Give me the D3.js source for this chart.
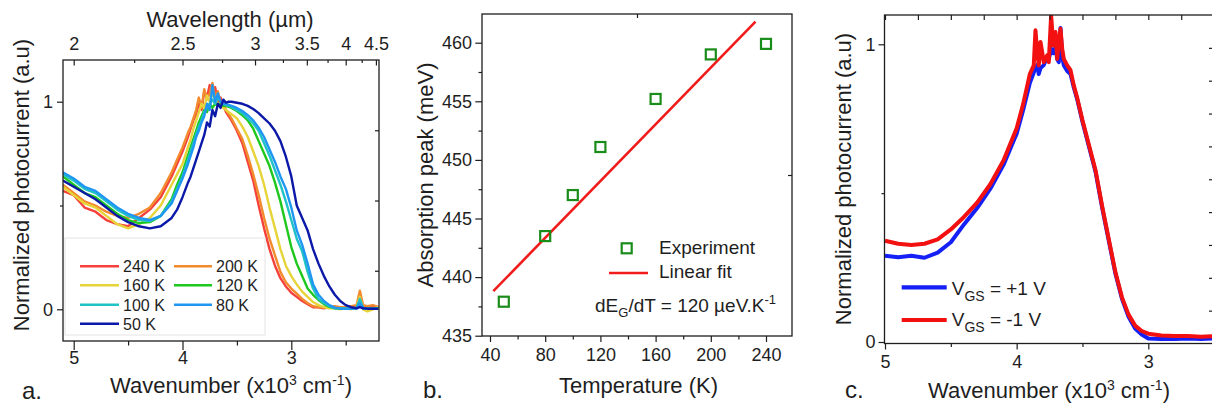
<!DOCTYPE html>
<html><head><meta charset="utf-8">
<script src="https://cdn.jsdelivr.net/npm/d3@7"></script>
<style>
body{margin:0;background:#fff;}
svg{display:block;font-family:"Liberation Sans",Arial,sans-serif;}
</style></head><body>
<svg id="chart" width="1212" height="407"></svg>
<script>
// ---------- Panel a data: wavenumber (x10^3 cm^-1) grid and normalized photocurrent ----------
const aWave = [5.1,5.0,4.9,4.8,4.7,4.6,4.5,4.4,4.3,4.2,4.1,4.05,4.0,3.95,3.925,3.9,3.875,3.85,3.825,3.8,3.775,3.75,3.725,3.7,3.675,3.65,3.625,3.6,3.575,3.55,3.5,3.45,3.4,3.35,3.3,3.25,3.2,3.15,3.1,3.05,3.0,2.95,2.9,2.85,2.8,2.75,2.7,2.65,2.6,2.55,2.5,2.45,2.4,2.37,2.34,2.3,2.25,2.2];
const a240 = [0.57,0.55,0.49,0.47,0.43,0.41,0.40,0.44,0.48,0.54,0.64,0.70,0.76,0.83,0.87,0.91,0.94,0.99,0.96,1.05,1.02,1.08,1.03,1.07,1.00,1.02,0.98,0.95,0.93,0.91,0.86,0.80,0.71,0.62,0.50,0.39,0.29,0.21,0.15,0.11,0.08,0.06,0.04,0.025,0.01,0.01,0.005,0.01,0.01,0.005,0.01,0.01,0.015,0.04,0.01,0.01,0.015,0.01];
const a200 = [0.60,0.56,0.52,0.50,0.47,0.45,0.44,0.46,0.49,0.56,0.66,0.72,0.78,0.85,0.88,0.92,0.96,1.02,0.97,1.06,1.01,1.04,1.09,1.02,1.05,0.99,1.00,0.96,0.94,0.92,0.87,0.82,0.74,0.65,0.55,0.44,0.34,0.26,0.18,0.13,0.10,0.075,0.05,0.03,0.015,0.01,0.01,0.01,0.015,0.01,0.01,0.015,0.02,0.09,0.02,0.015,0.02,0.01];
const a160 = [0.59,0.55,0.51,0.49,0.45,0.41,0.39,0.41,0.44,0.50,0.60,0.65,0.70,0.78,0.82,0.87,0.91,0.95,0.99,0.97,1.03,1.00,1.04,1.01,0.99,0.98,0.97,0.96,0.95,0.94,0.92,0.88,0.83,0.76,0.69,0.60,0.49,0.39,0.29,0.21,0.16,0.12,0.085,0.06,0.035,0.02,0.01,0.005,0.005,0.0,0.005,0.0,0.01,0.06,0.0,-0.01,0.0,0.01];
const a120 = [0.64,0.60,0.56,0.54,0.50,0.46,0.43,0.415,0.42,0.45,0.53,0.60,0.66,0.74,0.78,0.82,0.86,0.90,0.93,0.96,0.95,0.99,0.97,0.99,0.98,0.99,0.98,0.98,0.975,0.97,0.955,0.935,0.91,0.87,0.81,0.75,0.69,0.61,0.52,0.41,0.30,0.22,0.16,0.10,0.07,0.045,0.025,0.012,0.005,0.003,0.003,0.003,0.005,0.03,0.005,0.005,0.005,0.005];
const a100 = [0.65,0.62,0.58,0.56,0.52,0.48,0.45,0.43,0.425,0.45,0.52,0.58,0.64,0.72,0.76,0.80,0.84,0.88,0.91,0.95,0.97,0.99,1.01,0.99,1.02,1.00,0.99,0.985,0.98,0.975,0.96,0.945,0.92,0.895,0.86,0.80,0.74,0.67,0.60,0.52,0.43,0.34,0.28,0.18,0.10,0.05,0.03,0.015,0.005,0.005,0.003,0.003,0.005,0.05,0.005,0.003,0.003,0.003];
const a80  = [0.66,0.63,0.59,0.57,0.53,0.49,0.46,0.44,0.43,0.45,0.51,0.57,0.63,0.70,0.74,0.78,0.83,0.86,0.90,0.93,0.99,0.96,1.08,1.00,1.04,1.00,0.99,0.99,0.985,0.98,0.97,0.955,0.935,0.91,0.875,0.83,0.77,0.71,0.64,0.58,0.49,0.38,0.31,0.22,0.12,0.07,0.04,0.02,0.008,0.003,0.003,0.003,0.005,0.03,0.005,0.003,0.003,0.003];
const a50  = [0.62,0.59,0.56,0.53,0.49,0.45,0.42,0.40,0.39,0.40,0.44,0.48,0.54,0.61,0.64,0.68,0.72,0.76,0.80,0.84,0.90,0.88,0.96,0.93,0.99,0.97,1.01,0.995,1.0,1.0,0.995,0.99,0.98,0.965,0.945,0.92,0.895,0.86,0.81,0.735,0.64,0.50,0.44,0.38,0.29,0.22,0.16,0.11,0.07,0.04,0.02,0.01,0.005,0.01,0.005,0.003,0.003,0.003];
const aLabels = ["240 K","200 K","160 K","120 K","100 K","80 K","50 K"];
const aTicksBottom = [5,4,3];
const aTicksBottomMinor = [4.5,3.5,2.5];
const aTicksLeft = [0,1];
const aTicksLeftMinor = [0.5];
const aWavelengthTicks = [2,2.5,3,3.5,4,4.5];
const aWavelengthMinor = [2.25,2.75,3.25,3.75,4.25];

// ---------- Panel b data ----------
const bTemp = [50,80,100,120,160,200,240];
const bPeak = [437.9,443.5,447.0,451.1,455.2,459.0,459.9];
const bFitT = [42.4,232.4];
const bFitE = [438.8,461.8];
const bTicksX = [40,80,120,160,200,240];
const bTicksXMinor = [60,100,140,180,220];
const bTicksY = [435,440,445,450,455,460];
const bTicksYMinor = [437.5,442.5,447.5,452.5,457.5];

// ---------- Panel c data ----------
const cWave = [5.0,4.9,4.8,4.7,4.6,4.5,4.4,4.3,4.2,4.1,4.0,3.95,3.9,3.87,3.857,3.844,3.832,3.819,3.794,3.768,3.756,3.738,3.722,3.705,3.692,3.68,3.667,3.654,3.642,3.616,3.591,3.566,3.54,3.5,3.45,3.4,3.35,3.3,3.25,3.2,3.15,3.1,3.05,3.0,2.9,2.8,2.7,2.6,2.5];
const cPlus = [0.290,0.285,0.290,0.283,0.300,0.335,0.395,0.450,0.515,0.595,0.700,0.780,0.870,0.905,0.920,0.930,0.900,0.920,0.930,0.960,0.950,0.985,0.970,0.990,0.950,0.940,1.055,0.960,0.930,0.910,0.900,0.855,0.815,0.740,0.655,0.570,0.450,0.340,0.230,0.145,0.085,0.045,0.025,0.012,0.010,0.010,0.012,0.010,0.012];
const cMinus = [0.340,0.330,0.326,0.330,0.345,0.378,0.420,0.468,0.530,0.610,0.718,0.800,0.900,0.929,1.047,0.974,0.929,1.008,0.940,0.963,0.940,1.097,0.996,1.041,0.951,1.008,1.052,0.985,0.951,0.929,0.913,0.862,0.820,0.745,0.660,0.575,0.455,0.345,0.235,0.150,0.092,0.055,0.037,0.028,0.022,0.020,0.020,0.018,0.020];
const cLabels = ["+1 V","-1 V"];
const cTicksBottom = [5,4,3];
const cTicksBottomMinor = [4.5,3.5,2.5];
const cTicksTop = [5,4.75,4.5,4.25,4,3.75,3.5,3.25,3,2.75];
const cTicksLeft = [0,1];
const cTicksLeftMinor = [0.5];

// ---------- styles ----------
const INK = "#1e1e1e";
const TICK_FS = 18, TITLE_FS = 22;
const aColors = ["#f5413b","#f28a2e","#e6d438","#1ec81e","#20c2c6","#1f97f2","#0b18a8"];
const cColors = ["#1420f5","#f21010"];

const svg = d3.select("#chart");

function axis(g, gen, fs){
  g.call(gen);
  g.select(".domain").remove();
  g.attr("font-family", null).attr("font-size", null);
  g.selectAll(".tick line").attr("stroke", INK).attr("stroke-width", 1.2);
  g.selectAll(".tick text").attr("fill", INK).attr("font-size", fs || TICK_FS);
  return g;
}
function frame(F){
  svg.append("rect").attr("x",F.l).attr("y",F.t).attr("width",F.r-F.l).attr("height",F.b-F.t)
    .attr("fill","none").attr("stroke",INK).attr("stroke-width",1.3);
}
function supTitle(x, y, parts, anchor){
  const t = svg.append("text").attr("x",x).attr("y",y).attr("text-anchor",anchor||"middle")
    .attr("fill",INK).attr("font-size",TITLE_FS);
  parts.forEach(p => {
    const s = t.append("tspan").text(p.t);
    if (p.dy) s.attr("dy", p.dy);
    if (p.fs) s.attr("font-size", p.fs);
  });
  return t;
}
function yTitle(x, y, txt){
  svg.append("text").attr("transform",`translate(${x},${y}) rotate(-90)`).attr("text-anchor","middle")
    .attr("fill",INK).attr("font-size",TITLE_FS).text(txt);
}
const wnParts = [{t:"Wavenumber (x10"},{t:"3",dy:-8,fs:14},{t:" cm",dy:8},{t:"-1",dy:-8,fs:14},{t:")",dy:8}];

// =================== Panel a ===================
const A = {l:63, r:379, t:60, b:341};
const xA = d3.scaleLinear().domain([5,3]).range([73.7,291.3]);
const yA = d3.scaleLinear().domain([0,1]).range([309.3,101.7]);
const yAR = d3.scaleLinear().domain([0,4]).range([A.b,A.t]);
svg.append("clipPath").attr("id","clipA").append("rect").attr("x",A.l).attr("y",A.t).attr("width",A.r-A.l).attr("height",A.b-A.t);

const aSeries = [a240,a200,a160,a120,a100,a80,a50];
const lineA = d3.line().x((d,i)=>xA(aWave[i])).y(d=>yA(d));
svg.append("g").attr("clip-path","url(#clipA)").selectAll("path").data(aSeries).join("path")
  .attr("d", lineA).attr("fill","none").attr("stroke",(d,i)=>aColors[i]).attr("stroke-width",2.4)
  .attr("stroke-linejoin","round");

// legend a
const legA = svg.append("g");
legA.append("rect").attr("x",65).attr("y",238).attr("width",200).attr("height",97)
  .attr("fill","#fff").attr("stroke","#e4e4e4").attr("stroke-width",1);
const legARows = [266.3,285.3,304.7,323.7];
const legACols = [[80,119,123],[174,212,216]];
aLabels.forEach((lab,i) => {
  const r = Math.floor(i/2), c = i%2, col = legACols[c], y = legARows[r];
  legA.append("line").attr("x1",col[0]).attr("x2",col[1]).attr("y1",y).attr("y2",y)
    .attr("stroke",aColors[i]).attr("stroke-width",2.6);
  legA.append("text").attr("x",col[2]).attr("y",y+6).attr("font-size",16).attr("fill",INK).text(lab);
});

frame(A);
axis(svg.append("g").attr("transform",`translate(0,${A.b})`),
  d3.axisBottom(xA).tickValues(aTicksBottom).tickSize(9).tickPadding(1.5).tickFormat(d3.format("d")));
axis(svg.append("g").attr("transform",`translate(0,${A.b})`),
  d3.axisBottom(xA).tickValues(aTicksBottomMinor).tickSize(4.5).tickFormat(""));
axis(svg.append("g").attr("transform",`translate(${A.l},0)`),
  d3.axisLeft(yA).tickValues(aTicksLeft).tickSize(6).tickPadding(4).tickFormat(d3.format("d")));
axis(svg.append("g").attr("transform",`translate(${A.l},0)`),
  d3.axisLeft(yA).tickValues(aTicksLeftMinor).tickSize(3).tickFormat(""));
axis(svg.append("g").attr("transform",`translate(${A.r},0)`),
  d3.axisRight(yAR).tickValues([1,2,3]).tickSize(-4).tickFormat(""));
// top wavelength axis: position via the wavenumber scale (wavenumber = 10/wavelength)
function wlScale(){
  const f = v => xA(10 / v);
  f.copy = () => wlScale();
  f.range = () => [A.l, A.r];
  f.domain = () => [2, 4.5];
  return f;
}
axis(svg.append("g").attr("transform",`translate(0,${A.t})`),
  d3.axisTop(wlScale()).tickValues(aWavelengthTicks).tickSize(-5.5).tickPadding(10).tickFormat(d => String(d)));
axis(svg.append("g").attr("transform",`translate(0,${A.t})`),
  d3.axisTop(wlScale()).tickValues(aWavelengthMinor).tickSize(-3).tickFormat(""));

svg.append("text").attr("x",230).attr("y",26.7).attr("text-anchor","middle").attr("fill",INK)
  .attr("font-size",TITLE_FS).text("Wavelength (µm)");
yTitle(29, 185, "Normalized photocurrent (a.u)");
supTitle(231, 393, wnParts);
svg.append("text").attr("x",22).attr("y",399).attr("fill",INK).attr("font-size",24).text("a.");

// =================== Panel b ===================
const B = {l:482, r:792, t:14, b:336};
const xB = d3.scaleLinear().domain([40,240]).range([490,766]);
const yB = d3.scaleLinear().domain([435,460]).range([335.7,42.7]);
const xBT = d3.scaleLinear().domain([0,2]).range([B.l,B.r]);
const yBR = d3.scaleLinear().domain([0,2]).range([B.b,B.t]);

svg.append("path").datum(bFitT).attr("d", d3.line().x(d=>xB(d)).y((d,i)=>yB(bFitE[i])))
  .attr("stroke","#f01c1c").attr("stroke-width",2.6).attr("fill","none");
const sq = 10;
svg.append("g").selectAll("rect").data(bTemp).join("rect")
  .attr("x",d=>xB(d)-sq/2).attr("y",(d,i)=>yB(bPeak[i])-sq/2).attr("width",sq).attr("height",sq)
  .attr("fill","none").attr("stroke","#1a8c1a").attr("stroke-width",2.2);

// legend b
svg.append("rect").attr("x",626.7-sq/2).attr("y",248.3-sq/2).attr("width",sq).attr("height",sq)
  .attr("fill","none").attr("stroke","#1a8c1a").attr("stroke-width",2.2);
svg.append("text").attr("x",659).attr("y",253.5).attr("font-size",19).attr("fill",INK).text("Experiment");
svg.append("line").attr("x1",609).attr("x2",648).attr("y1",273).attr("y2",273).attr("stroke","#f01c1c").attr("stroke-width",2.6);
svg.append("text").attr("x",659).attr("y",277.5).attr("font-size",19).attr("fill",INK).text("Linear fit");
{
  const t = svg.append("text").attr("x",595).attr("y",311.7).attr("font-size",19).attr("fill",INK);
  t.append("tspan").text("dE");
  t.append("tspan").attr("dy",5).attr("font-size",13).text("G");
  t.append("tspan").attr("dy",-5).text("/dT = 120 µeV.K");
  t.append("tspan").attr("dy",-8).attr("font-size",13).text("-1");
}

frame(B);
axis(svg.append("g").attr("transform",`translate(0,${B.b})`),
  d3.axisBottom(xB).tickValues(bTicksX).tickSize(6).tickPadding(6).tickFormat(d3.format("d")));
axis(svg.append("g").attr("transform",`translate(0,${B.b})`),
  d3.axisBottom(xB).tickValues(bTicksXMinor).tickSize(3.5).tickFormat(""));
axis(svg.append("g").attr("transform",`translate(${B.l},0)`),
  d3.axisLeft(yB).tickValues(bTicksY).tickSize(6.7).tickPadding(3.3).tickFormat(d3.format("d")));
axis(svg.append("g").attr("transform",`translate(${B.l},0)`),
  d3.axisLeft(yB).tickValues(bTicksYMinor).tickSize(3.5).tickFormat(""));
axis(svg.append("g").attr("transform",`translate(0,${B.t})`),
  d3.axisTop(xBT).tickValues([1]).tickSize(-4).tickFormat(""));
axis(svg.append("g").attr("transform",`translate(${B.r},0)`),
  d3.axisRight(yBR).tickValues([1]).tickSize(-4).tickFormat(""));

yTitle(432.5, 175, "Absorption peak (meV)");
svg.append("text").attr("x",638.5).attr("y",392.7).attr("text-anchor","middle").attr("fill",INK)
  .attr("font-size",TITLE_FS).text("Temperature (K)");
svg.append("text").attr("x",423).attr("y",398).attr("fill",INK).attr("font-size",24).text("b.");

// =================== Panel c ===================
const C = {l:884.5, r:1213.5, t:15, b:343.5};
const xC = d3.scaleLinear().domain([5,3]).range([885,1148.3]);
const yC = d3.scaleLinear().domain([0,1]).range([342,44.3]);
const yCR = d3.scaleLinear().domain([0,10]).range([C.b,C.t]);
svg.append("clipPath").attr("id","clipC").append("rect").attr("x",C.l).attr("y",C.t).attr("width",C.r-C.l).attr("height",C.b-C.t);
const lineC = d3.line().x((d,i)=>xC(cWave[i])).y(d=>yC(d));
svg.append("g").attr("clip-path","url(#clipC)").selectAll("path").data([cPlus,cMinus]).join("path")
  .attr("d", lineC).attr("fill","none").attr("stroke",(d,i)=>cColors[i]).attr("stroke-width",4)
  .attr("stroke-linejoin","round");

// legend c
[[287.3,294.5],[320,326]].forEach((r,i) => {
  svg.append("line").attr("x1",901.7).attr("x2",946.7).attr("y1",r[0]).attr("y2",r[0])
    .attr("stroke",cColors[i]).attr("stroke-width",4.2);
  const t = svg.append("text").attr("x",951.7).attr("y",r[1]).attr("font-size",19).attr("fill",INK);
  t.append("tspan").text("V");
  t.append("tspan").attr("dy",6).attr("font-size",14).text("GS");
  t.append("tspan").attr("dy",-6).text(" = " + cLabels[i]);
});

frame(C);
axis(svg.append("g").attr("transform",`translate(0,${C.b})`),
  d3.axisBottom(xC).tickValues(cTicksBottom).tickSize(6).tickPadding(5.5).tickFormat(d3.format("d")));
axis(svg.append("g").attr("transform",`translate(0,${C.b})`),
  d3.axisBottom(xC).tickValues(cTicksBottomMinor).tickSize(3.5).tickFormat(""));
axis(svg.append("g").attr("transform",`translate(${C.l},0)`),
  d3.axisLeft(yC).tickValues(cTicksLeft).tickSize(6).tickPadding(3).tickFormat(d3.format("d")));
axis(svg.append("g").attr("transform",`translate(${C.l},0)`),
  d3.axisLeft(yC).tickValues(cTicksLeftMinor).tickSize(3).tickFormat(""));
axis(svg.append("g").attr("transform",`translate(0,${C.t})`),
  d3.axisTop(xC).tickValues(cTicksTop).tickSize(-5).tickFormat(""));
axis(svg.append("g").attr("transform",`translate(${C.r},0)`),
  d3.axisRight(yCR).tickValues([1,2,3,4,5,6,7,8,9]).tickSize(-4.5).tickFormat(""));

yTitle(851, 179, "Normalized photocurrent (a.u)");
supTitle(1049, 397.7, wnParts);
svg.append("text").attr("x",845).attr("y",398).attr("fill",INK).attr("font-size",24).text("c.");
</script>
</body></html>
